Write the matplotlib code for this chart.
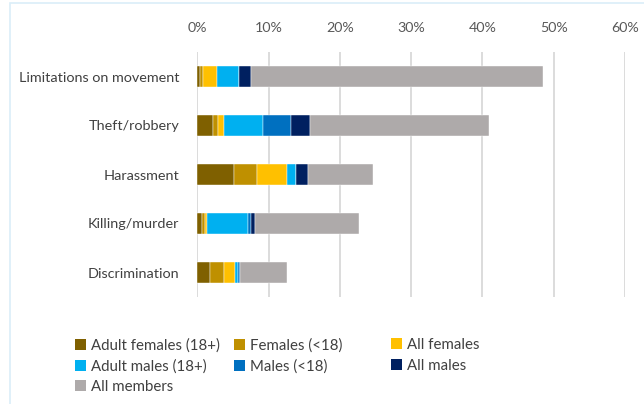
import matplotlib
matplotlib.use("Agg")
import matplotlib.pyplot as plt
from matplotlib.patches import Rectangle, Patch
import numpy as np

categories = ["Limitations on movement", "Theft/robbery", "Harassment",
              "Killing/murder", "Discrimination"]
series_names = ["Adult females (18+)", "Females (<18)", "All females",
                "Adult males (18+)", "Males (<18)", "All males", "All members"]
adult_females = [0.37, 2.15, 5.14, 0.65, 1.78]
females_u18   = [0.37, 0.79, 3.27, 0.37, 1.92]
all_females   = [1.96, 0.79, 4.16, 0.37, 1.64]
adult_males   = [3.13, 5.51, 1.21, 5.70, 0.42]
males_u18     = [0.05, 3.88, 0.05, 0.42, 0.19]
all_males     = [1.68, 2.76, 1.64, 0.56, 0.05]
all_members   = [41.0, 25.1, 9.16, 14.6, 6.59]
xticks = [0, 10, 20, 30, 40, 50, 60]
xtick_labels = ["0%", "10%", "20%", "30%", "40%", "50%", "60%"]
colors = ["#7F6000", "#BF9000", "#FFC000", "#00B0F0", "#0070C0", "#002060", "#AEAAAA"]

series = [adult_females, females_u18, all_females, adult_males, males_u18, all_males, all_members]

plt.rcParams['font.family'] = ['Lato', 'DejaVu Sans']

W, H = 644, 404
fig = plt.figure(figsize=(W / 100, H / 100), dpi=100)
ax = fig.add_axes([197.3 / W, 1 - 297 / H, 427.7 / W, 245 / H])

y = np.arange(len(categories))
left = np.zeros(len(categories))
for vals, col, name in zip(series, colors, series_names):
    ax.barh(y, vals, left=left, height=0.41, color=col, label=name,
            edgecolor="white", linewidth=0.3, zorder=3)
    left += np.array(vals)

ax.set_xlim(0, 60)
ax.set_ylim(len(categories) - 0.5, -0.5)
ax.set_yticks(y)
ax.set_yticklabels(categories, fontsize=10.4, color="#404040")
ax.set_xticks(xticks)
ax.set_xticklabels(xtick_labels, fontsize=10.3, color="#595959")
ax.xaxis.tick_top()
ax.tick_params(axis="x", length=0, pad=13)
ax.tick_params(axis="y", length=0, pad=13)
ax.grid(axis="x", color="#D9D9D9", linewidth=1.3, zorder=0)
for s in ax.spines.values():
    s.set_visible(False)

# outer frame (light blue)
fig.patches.append(Rectangle((10 / W, -0.1), 1.2, (H - 3) / H + 0.1,
                             transform=fig.transFigure, fill=False,
                             edgecolor="#DAEEF8", linewidth=1.2))

# legend: three columns
cols = [[0, 3, 6], [1, 4], [2, 5]]
col_x = [75, 234, 391]
for cx, idxs in zip(col_x, cols):
    handles = [Patch(facecolor=colors[i], edgecolor="none") for i in idxs]
    labels = [series_names[i] for i in idxs]
    leg = fig.legend(handles, labels, loc="upper left",
                     bbox_to_anchor=(cx / W, 1 - 338 / H), frameon=False,
                     fontsize=10.8, handlelength=0.75, handleheight=0.75,
                     handletextpad=0.3, labelspacing=0.45, borderaxespad=0,
                     borderpad=0)
    for t in leg.get_texts():
        t.set_color("#404040")

fig.savefig("out.png", dpi=100)
